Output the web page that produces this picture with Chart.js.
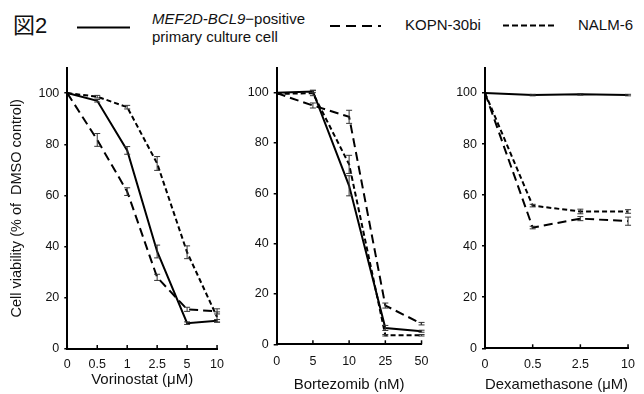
<!DOCTYPE html>
<html>
<head>
<meta charset="utf-8">
<script src="https://cdn.jsdelivr.net/npm/chart.js@4"></script>
<style>
  html, body { margin:0; padding:0; background:#fff; }
  #wrap { position:relative; width:644px; height:394px; overflow:hidden; font-family:"Liberation Sans", Arial, sans-serif; color:#111; }
  canvas { position:absolute; }
  .lg { position:absolute; white-space:nowrap; }
</style>
</head>
<body>
<div id="wrap">
  <div class="lg" style="left:13px;top:14px;font-size:22px;line-height:24px;font-family:'Liberation Sans','Noto Sans CJK JP',sans-serif;">図2</div>
  <svg class="lg" style="left:0;top:0" width="644" height="50">
    <line x1="77" y1="27.5" x2="130" y2="27.5" stroke="#000" stroke-width="2"/>
    <line x1="330" y1="26" x2="381" y2="26" stroke="#000" stroke-width="2" stroke-dasharray="10 6"/>
    <line x1="503" y1="25.5" x2="554" y2="25.5" stroke="#000" stroke-width="2" stroke-dasharray="6 3"/>
  </svg>
  <div class="lg" style="left:152px;top:9.5px;font-size:15px;line-height:18px;"><i>MEF2D-BCL9</i>−positive<br>primary culture cell</div>
  <div class="lg" style="left:405px;top:16px;font-size:15px;line-height:18px;">KOPN-30bi</div>
  <div class="lg" style="left:578px;top:16px;font-size:15px;line-height:18px;">NALM-6</div>
  <canvas id="c1" width="232" height="339" style="left:0;top:55px;width:232px;height:339px"></canvas>
  <canvas id="c2" width="206" height="339" style="left:232px;top:55px;width:206px;height:339px"></canvas>
  <canvas id="c3" width="206" height="339" style="left:438px;top:55px;width:206px;height:339px"></canvas>
</div>
<script>
// ---- Data ----
const seriesNames = ["MEF2D-BCL9−positive primary culture cell", "KOPN-30bi", "NALM-6"];
const yTicks = [0, 20, 40, 60, 80, 100];

const vorDoses = ["0", "0.5", "1", "2.5", "5", "10"];
const vorMef2d = [100, 97.0, 77.6, 38.1, 10.1, 11.0];
const vorKopn  = [100, 81.7, 61.5, 28.0, 15.5, 14.7];
const vorNalm  = [100, 98.6, 94.5, 72.5, 37.8, 12.5];
const vorMef2dErr = [0, 0.5, 1.5, 2.5, 0.5, 0.5];
const vorKopnErr  = [0, 2.5, 1.5, 1.2, 0.8, 1.0];
const vorNalmErr  = [0, 0.5, 0.7, 2.7, 2.5, 2.0];

const bortDoses = ["0", "5", "10", "25", "50"];
const bortMef2d = [100, 100.5, 63.0, 6.5, 5.2];
const bortKopn  = [99.8, 94.9, 90.4, 15.4, 8.2];
const bortNalm  = [99.5, 99.8, 71.5, 3.6, 3.6];
const bortMef2dErr = [0, 0.5, 4.0, 1.0, 0.4];
const bortKopnErr  = [0, 1.0, 2.6, 1.0, 0.5];
const bortNalmErr  = [0, 1.0, 3.6, 0.3, 0.3];

const dexDoses = ["0", "0.5", "2.5", "10"];
const dexMef2d = [100, 99.2, 99.5, 99.2];
const dexKopn  = [100, 47.3, 50.8, 49.8];
const dexNalm  = [100, 55.9, 53.6, 53.6];
const dexMef2dErr = [0, 0.3, 0.3, 0.3];
const dexKopnErr  = [0, 0.5, 0.8, 1.6];
const dexNalmErr  = [0, 0.5, 0.9, 0.7];

// ---- Plugin: error bars + inward x ticks ----
const errorBarPlugin = {
  id: 'errorBars',
  afterDatasetsDraw(chart) {
    const {ctx, scales: {x, y}} = chart;
    ctx.save();
    ctx.strokeStyle = '#333';
    ctx.lineWidth = 1;
    chart.data.datasets.forEach(ds => {
      const errs = ds.errors;
      if (!errs) return;
      ds.data.forEach((v, j) => {
        const e = errs[j];
        if (!e) return;
        const px = x.getPixelForValue(j);
        const t = y.getPixelForValue(v + e), b = y.getPixelForValue(v - e);
        ctx.beginPath();
        ctx.moveTo(px, t); ctx.lineTo(px, b);
        ctx.moveTo(px - 3, t); ctx.lineTo(px + 3, t);
        ctx.moveTo(px - 3, b); ctx.lineTo(px + 3, b);
        ctx.stroke();
      });
    });
    ctx.strokeStyle = '#000';
    ctx.lineWidth = 1.5;
    x.ticks.forEach((tk, j) => {
      const px = x.getPixelForTick(j);
      ctx.beginPath();
      ctx.moveTo(px, y.bottom);
      ctx.lineTo(px, y.bottom - 4);
      ctx.stroke();
    });
    ctx.restore();
  }
};

const FONT = "'Liberation Sans', Arial, sans-serif";

function makeChart(id, labels, mef, kopn, nalm, mefErr, kopnErr, nalmErr, cfg) {
  const ds = (label, data, errs, dash) => ({
    label, data, errors: errs,
    borderColor: '#000', backgroundColor: '#000',
    borderWidth: 2, borderDash: dash,
    pointRadius: 0, tension: 0, fill: false
  });
  return new Chart(document.getElementById(id), {
    type: 'line',
    data: {
      labels,
      datasets: [
        ds(seriesNames[0], mef, mefErr, []),
        ds(seriesNames[1], kopn, kopnErr, [9, 5]),
        ds(seriesNames[2], nalm, nalmErr, [5, 3])
      ]
    },
    options: {
      responsive: false,
      animation: false,
      devicePixelRatio: 1,
      layout: { padding: { top: 8, right: cfg.padRight, left: 0, bottom: 0 } },
      plugins: { legend: { display: false }, tooltip: { enabled: false } },
      scales: {
        x: {
          type: 'category',
          offset: false,
          border: { display: true, color: '#000', width: 2 },
          grid: { display: true, drawOnChartArea: false, drawTicks: false },
          ticks: { color: '#111', font: { family: FONT, size: 12.5 }, padding: cfg.xTickPad, maxRotation: 0, autoSkip: false },
          title: { display: true, text: cfg.xTitle, color: '#111', font: { family: FONT, size: 15 }, padding: { top: 0, bottom: cfg.xTitlePad } },
          afterFit(s) { s.height = cfg.xHeight; }
        },
        y: {
          min: 0, max: 110,
          border: { display: true, color: '#000', width: 2 },
          grid: { display: true, drawOnChartArea: false, drawTicks: true, tickLength: 3, color: '#000', lineWidth: 1.5 },
          ticks: { stepSize: 20, color: '#111', font: { family: FONT, size: 12.5 }, padding: 5 },
          afterBuildTicks(s) { s.ticks = yTicks.map(v => ({ value: v })); },
          title: { display: !!cfg.yTitle, text: cfg.yTitle || '', color: '#111', font: { family: FONT, size: 14.5 }, padding: { top: 8.3, bottom: 0 } },
          afterFit(s) { s.width = cfg.yWidth; }
        }
      }
    },
    plugins: [errorBarPlugin]
  });
}

makeChart('c1', vorDoses, vorMef2d, vorKopn, vorNalm, vorMef2dErr, vorKopnErr, vorNalmErr,
  { padRight: 12, yWidth: 67.3, xHeight: 45, xTickPad: 8, xTitlePad: 5, xTitle: 'Vorinostat (μM)', yTitle: 'Cell viability (% of  DMSO control)' });
makeChart('c2', bortDoses, bortMef2d, bortKopn, bortNalm, bortMef2dErr, bortKopnErr, bortNalmErr,
  { padRight: 10, yWidth: 44.7, xHeight: 49.7, xTickPad: 9.5, xTitlePad: 0, xTitle: 'Bortezomib (nM)' });
makeChart('c3', dexDoses, dexMef2d, dexKopn, dexNalm, dexMef2dErr, dexKopnErr, dexNalmErr,
  { padRight: 6.7, yWidth: 47, xHeight: 45.7, xTickPad: 9, xTitlePad: 0, xTitle: 'Dexamethasone (μM)' });
</script>
</body>
</html>
